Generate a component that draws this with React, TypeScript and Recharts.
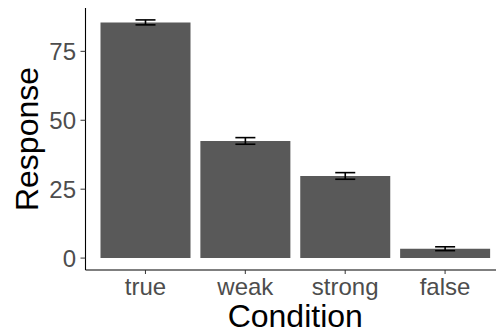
import { BarChart, Bar, XAxis, YAxis, ErrorBar, Label } from "recharts";

const conditions = ["true", "weak", "strong", "false"];
const responseMeans = [85.5, 42.5, 29.8, 3.4];
const responseErrors = [0.9, 1.2, 1.2, 0.7];
const yTicks = [0, 25, 50, 75];

const data = conditions.map((condition, i) => ({
  condition,
  response: responseMeans[i],
  err: responseErrors[i],
}));

const FONT = '"Liberation Sans", Arial, Helvetica, sans-serif';
const tickStyle = { fontSize: 24, fill: "#4D4D4D", fontFamily: FONT };

// ggplot-ish default: 5% expansion on the data range
const yDomain: [number, number] = [-4.32, 90.72];

export default function App() {
  return (
    <div style={{ position: "absolute", left: 0, top: 0, width: 496, height: 333, overflow: "hidden", background: "#fff" }}>
      <BarChart
        width={520}
        height={333}
        data={data}
        margin={{ top: 8, right: 15, bottom: 0, left: 0 }}
        barCategoryGap={5}
      >
        <XAxis
          dataKey="condition"
          height={63}
          padding={{ left: 10, right: 10 }}
          axisLine={{ stroke: "#000", strokeWidth: 1.1 }}
          tickLine={{ stroke: "#333" }}
          tickSize={4}
          tickMargin={4}
          tick={tickStyle}
          interval={0}
        >
          <Label
            value="Condition"
            position="insideBottom"
            offset={6}
            style={{ fontSize: 32, fill: "#000", fontFamily: FONT }}
          />
        </XAxis>
        <YAxis
          width={85.5}
          domain={yDomain}
          allowDataOverflow
          ticks={yTicks}
          axisLine={{ stroke: "#000", strokeWidth: 1.1 }}
          tickLine={{ stroke: "#333" }}
          tickSize={5}
          tickMargin={4.5}
          tick={tickStyle}
        >
          <Label
            content={({ viewBox }: any) => {
              const cx = viewBox.x + 38;
              const cy = viewBox.y + viewBox.height / 2;
              return (
                <text
                  x={cx}
                  y={cy}
                  transform={`rotate(-90, ${cx}, ${cy})`}
                  textAnchor="middle"
                  fontSize={32}
                  fill="#000"
                  fontFamily={FONT}
                >
                  Response
                </text>
              );
            }}
          />
        </YAxis>
        <Bar dataKey="response" fill="#595959" isAnimationActive={false}>
          <ErrorBar dataKey="err" width={10} stroke="#000" strokeWidth={1.6} direction="y" />
        </Bar>
      </BarChart>
    </div>
  );
}
